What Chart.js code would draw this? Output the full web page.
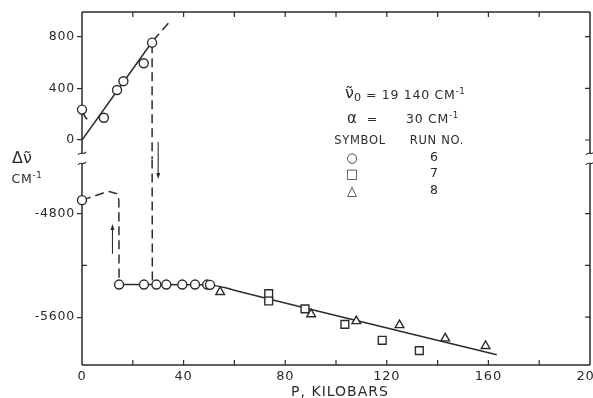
<!DOCTYPE html>
<html>
<head>
<meta charset="utf-8">
<script src="https://cdn.jsdelivr.net/npm/chart.js@4.4.0/dist/chart.umd.min.js"></script>
<style>
  body { margin: 0; background: #fff; }
  #wrap { position: relative; width: 593px; height: 398px; font-family: "DejaVu Sans", sans-serif; color: #2b2b2b; overflow: hidden; }
  #wrap canvas { position: absolute; left: 0; top: 0; }
  .t { position: absolute; white-space: nowrap; line-height: 1; transform: translate(-50%, -50%); }
  .l { position: absolute; white-space: nowrap; line-height: 1; transform: translate(0, -50%); }
  .sp { letter-spacing: 0.7px; }
  sup { font-size: 70%; vertical-align: 0.55em; line-height: 0; }
  sub { font-size: 70%; vertical-align: -0.3em; line-height: 0; }
</style>
</head>
<body>
<div id="wrap">
  <canvas id="chart" width="593" height="398"></canvas>
  <div class="t" style="left:22px;top:158px;font-size:16px">Δν̃</div>
  <div class="t sp" style="left:27px;top:179px;font-size:12.5px">CM<sup>-1</sup></div>
  <div class="t sp" style="left:340px;top:391px;font-size:14px;letter-spacing:1px">P, KILOBARS</div>

  <div class="t" style="left:353px;top:93px;font-size:16px">ν̃<sub>0</sub></div>
  <div class="l sp" style="left:366px;top:95px;font-size:12.5px">= 19 140 CM<sup>-1</sup></div>
  <div class="t" style="left:352px;top:118px;font-size:15px">α</div>
  <div class="t" style="left:372px;top:119px;font-size:12.5px">=</div>
  <div class="l sp" style="left:406px;top:119px;font-size:12.5px">30 CM<sup>-1</sup></div>
  <div class="t sp" style="left:360px;top:141px;font-size:11.5px">SYMBOL</div>
  <div class="t sp" style="left:437px;top:141px;font-size:11.5px">RUN NO.</div>
  <div class="t" style="left:352px;top:157px;font-size:13px">○</div>
  <div class="t" style="left:352px;top:173px;font-size:13px">□</div>
  <div class="t" style="left:352px;top:190px;font-size:13px">△</div>
  <div class="t" style="left:434px;top:157px;font-size:12.5px">6</div>
  <div class="t" style="left:434px;top:173px;font-size:12.5px">7</div>
  <div class="t" style="left:434px;top:190px;font-size:12.5px">8</div>
</div>
<script>
const ink = "#2b2b2b";

// ticks
const xTickLabels = [0, 40, 80, 120, 160, 200];
const xTickMarks = [20, 40, 60, 80, 100, 120, 140, 160, 180];
const yTopTicks = [0, 400, 800];
const yBotTicks = [-5600, -4800];
const yBotMinor = [-5200];

// run 6, upper branch and lower branch (circles)
const run6UpP = [0, 8.6, 13.8, 16.3, 24.3, 27.6];
const run6UpV = [235, 172, 387, 455, 594, 753];
const run6LoP = [0, 14.6, 24.4, 29.3, 33.2, 39.5, 44.5, 49.3, 50.4];
const run6LoV = [-4695, -5348, -5348, -5348, -5348, -5348, -5348, -5348, -5350];
// run 7 (squares), run 8 (triangles)
const run7P = [73.5, 73.5, 87.8, 103.5, 118.2, 132.8];
const run7V = [-5418, -5475, -5536, -5656, -5779, -5859];
const run8P = [54.4, 90.2, 108, 125, 143, 158.9];
const run8V = [-5405, -5577, -5631, -5662, -5764, -5823];

// drawn curves
const fitUpP = [0, 28];
const fitUpV = [0, 770];
const fitUpDashP = [28, 34.5];
const fitUpDashV = [770, 915];
const hookUpP = [0.2, 1.2, 3.8];
const hookUpV = [220, 180, 140];
const dropUpP = [27.6, 27.6];
const dropUpV = [740, -150];
const dropLoP = [27.6, 27.7, 29];
const dropLoV = [-4380, -5320, -5348];
const riseLoP = [0, 7.2, 10.3, 13.6, 14.5, 14.6];
const riseLoV = [-4695, -4648, -4628, -4643, -4700, -5348];
const fitLoP = [14.6, 50, 53, 56, 60, 163.3];
const fitLoV = [-5348, -5350, -5358, -5371, -5392, -5890];

// arrows: pressure, [axis, from], [axis, to]
const arrowP = [12, 30];
const arrowFrom = [["yBot", -5110], ["yTop", -16]];
const arrowTo = [["yBot", -4880], ["yBot", -4531]];

const pts = (xs, ys) => xs.map((x, i) => ({ x, y: ys[i] }));

const pointSet = (data, axis, style, radius) => ({
    data,
    yAxisID: axis,
    pointStyle: style,
    pointRadius: radius,
    pointBorderWidth: 1.4,
    pointBorderColor: ink,
    pointBackgroundColor: "#fff",
    showLine: false,
    order: 0,
    clip: { left: 10, right: 0, top: 0, bottom: 0 },
});

const lineSet = (data, axis, dashed, smooth) => ({
    data,
    yAxisID: axis,
    showLine: true,
    borderColor: ink,
    borderWidth: 1.5,
    borderDash: dashed ? [9, 5] : [],
    pointRadius: 0,
    cubicInterpolationMode: smooth ? "monotone" : "default",
    tension: smooth ? 0.4 : 0,
    order: 1,
});

const framePlugin = {
    id: "frame",
    beforeDraw(chart) {
        chart.ctx.letterSpacing = "0.8px";
    },
    beforeDatasetsDraw(chart) {
        const { ctx, chartArea: a, scales } = chart;
        const { x, yTop, yBot } = scales;
        const brk = yTop.bottom;
        ctx.save();
        ctx.strokeStyle = ink;
        ctx.fillStyle = ink;
        ctx.lineWidth = 1.5;
        ctx.beginPath();
        ctx.moveTo(a.left, a.top);
        ctx.lineTo(a.right, a.top);
        ctx.moveTo(a.left, a.bottom);
        ctx.lineTo(a.right, a.bottom);
        for (const sx of [a.left, a.right]) {
            ctx.moveTo(sx, a.top);
            ctx.lineTo(sx, brk - 6);
            ctx.moveTo(sx, brk + 4);
            ctx.lineTo(sx, a.bottom);
        }
        ctx.stroke();

        // break marks
        ctx.lineWidth = 1.1;
        for (const sx of [a.left, a.right]) {
            for (const yy of [brk - 6, brk + 4]) {
                ctx.beginPath();
                ctx.moveTo(sx - 4, yy + 1.5);
                ctx.bezierCurveTo(sx - 1.5, yy - 2.5, sx + 1.5, yy + 2.5, sx + 4, yy - 1.5);
                ctx.stroke();
            }
        }

        // inner ticks
        ctx.lineWidth = 1.2;
        ctx.beginPath();
        for (const v of xTickMarks) {
            const px = x.getPixelForValue(v);
            ctx.moveTo(px, a.bottom);
            ctx.lineTo(px, a.bottom - 5);
            ctx.moveTo(px, a.top);
            ctx.lineTo(px, a.top + 5);
        }
        for (const v of yTopTicks) {
            const py = yTop.getPixelForValue(v);
            ctx.moveTo(a.right, py);
            ctx.lineTo(a.right - 5, py);
        }
        for (const v of yBotTicks.concat(yBotMinor)) {
            const py = yBot.getPixelForValue(v);
            ctx.moveTo(a.right, py);
            ctx.lineTo(a.right - 5, py);
        }
        for (const v of yBotMinor) {
            const py = yBot.getPixelForValue(v);
            ctx.moveTo(a.left, py);
            ctx.lineTo(a.left + 5, py);
        }
        ctx.stroke();

        // arrows
        ctx.lineWidth = 1.1;
        arrowP.forEach((p, i) => {
            const px = x.getPixelForValue(p);
            const y0 = scales[arrowFrom[i][0]].getPixelForValue(arrowFrom[i][1]);
            const y1 = scales[arrowTo[i][0]].getPixelForValue(arrowTo[i][1]);
            const dir = y1 > y0 ? 1 : -1;
            ctx.beginPath();
            ctx.moveTo(px, y0);
            ctx.lineTo(px, y1 - dir * 4);
            ctx.stroke();
            ctx.beginPath();
            ctx.moveTo(px, y1);
            ctx.lineTo(px - 2, y1 - dir * 6);
            ctx.lineTo(px + 2, y1 - dir * 6);
            ctx.closePath();
            ctx.fill();
        });
        ctx.restore();
    },
};

const tickFont = { family: "DejaVu Sans", size: 12.5 };

new Chart(document.getElementById("chart"), {
    type: "scatter",
    data: {
        datasets: [
            pointSet(pts(run6UpP, run6UpV), "yTop", "circle", 4.5),
            pointSet(pts(run6LoP, run6LoV), "yBot", "circle", 4.5),
            pointSet(pts(run7P, run7V), "yBot", "rect", 5.5),
            pointSet(pts(run8P, run8V), "yBot", "triangle", 5),
            lineSet(pts(fitUpP, fitUpV), "yTop", false, false),
            lineSet(pts(fitUpDashP, fitUpDashV), "yTop", true, false),
            lineSet(pts(hookUpP, hookUpV), "yTop", true, true),
            lineSet(pts(dropUpP, dropUpV), "yTop", true, false),
            lineSet(pts(dropLoP, dropLoV), "yBot", true, false),
            lineSet(pts(riseLoP, riseLoV), "yBot", true, true),
            lineSet(pts(fitLoP, fitLoV), "yBot", false, true),
        ],
    },
    options: {
        responsive: false,
        devicePixelRatio: 1,
        animation: false,
        events: [],
        layout: { autoPadding: false, padding: { top: 12, right: 3, left: 0, bottom: 0 } },
        plugins: { legend: { display: false }, tooltip: { enabled: false } },
        scales: {
            x: {
                type: "linear",
                min: 0,
                max: 200,
                grid: { display: false, drawTicks: false },
                border: { display: false },
                afterBuildTicks(scale) {
                    scale.ticks = xTickLabels.map((v) => ({ value: v }));
                },
                afterFit(scale) {
                    scale.height = 33;
                    scale.paddingLeft = 0;
                    scale.paddingRight = 0;
                },
                ticks: {
                    color: ink,
                    padding: 4,
                    maxRotation: 0,
                    font: { family: "DejaVu Sans", size: 13 },
                    callback: (v) => String(v),
                },
            },
            yBot: {
                type: "linear",
                position: "left",
                stack: "y",
                stackWeight: 1590,
                min: -5970,
                max: -4380,
                border: { display: false },
                grid: { drawOnChartArea: false, tickLength: 5, color: ink, lineWidth: 1.2 },
                afterBuildTicks(scale) {
                    scale.ticks = yBotTicks.map((v) => ({ value: v }));
                },
                afterFit(scale) {
                    scale.width = 82;
                },
                ticks: { color: ink, padding: 2, font: tickFont, callback: (v) => String(v) },
            },
            yTop: {
                type: "linear",
                position: "left",
                stack: "y",
                stackWeight: 1140,
                min: -150,
                max: 990,
                border: { display: false },
                grid: { drawOnChartArea: false, tickLength: 5, color: ink, lineWidth: 1.2 },
                afterBuildTicks(scale) {
                    scale.ticks = yTopTicks.map((v) => ({ value: v }));
                },
                afterFit(scale) {
                    scale.width = 82;
                },
                ticks: { color: ink, padding: 2, font: tickFont, callback: (v) => String(v) },
            },
        },
    },
    plugins: [framePlugin],
});
</script>
</body>
</html>
